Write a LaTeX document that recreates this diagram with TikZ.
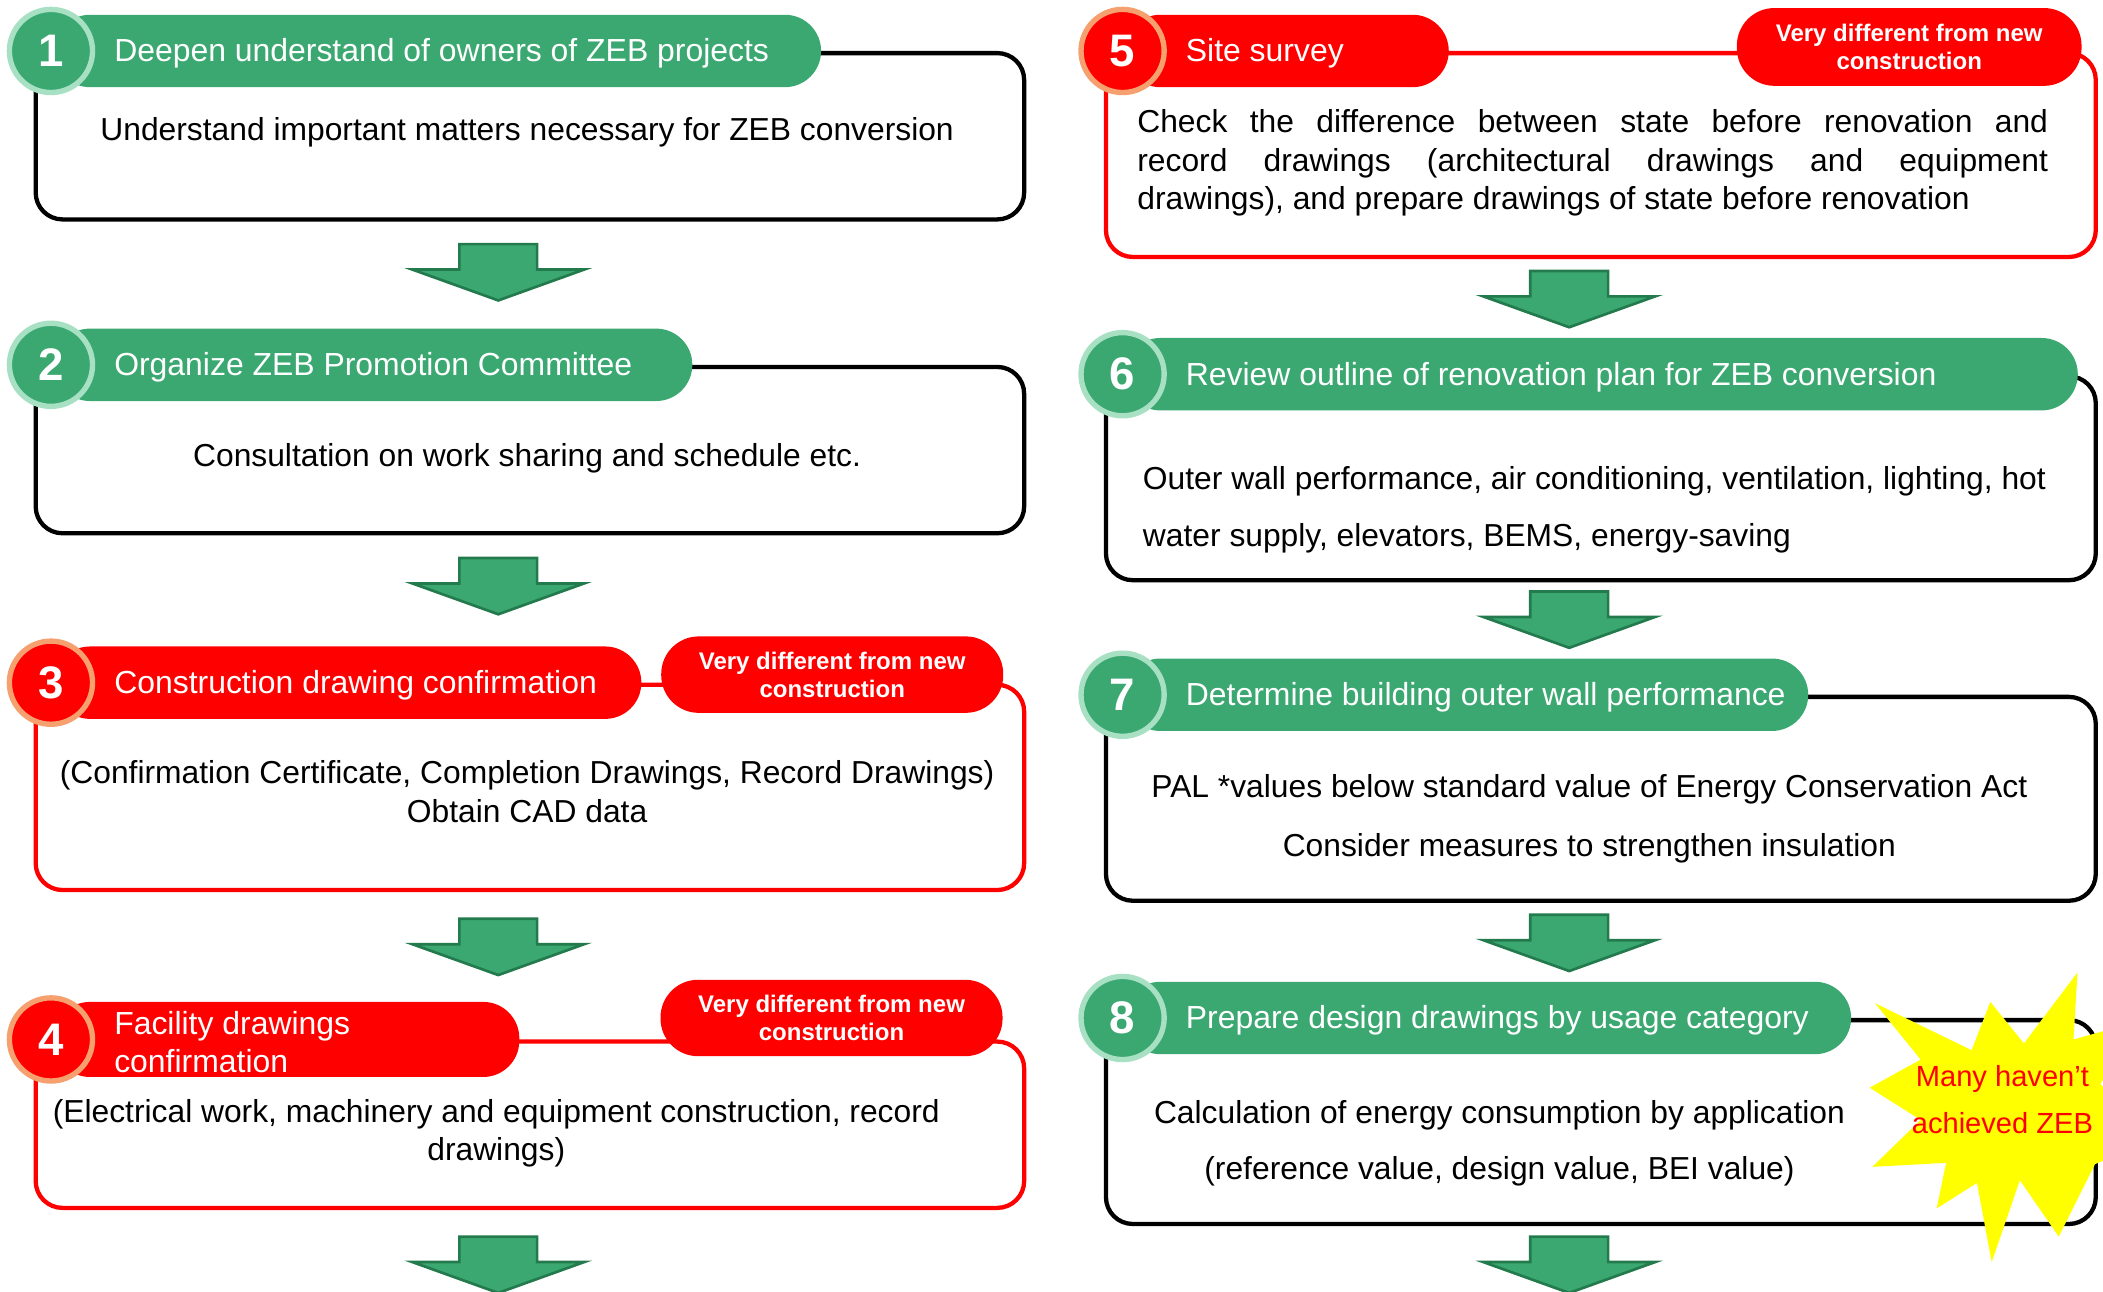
\documentclass[tikz,border=0pt]{standalone}
\usepackage{fontspec}
\setmainfont{Liberation Sans}
\usetikzlibrary{calc}

\definecolor{zgreen}{HTML}{3BA872}
\definecolor{zring}{HTML}{A8E0C4}
\definecolor{zred}{HTML}{FF0000}
\definecolor{zorange}{HTML}{F5A06E}
\definecolor{zdark}{HTML}{237A4C}
\definecolor{zyellow}{HTML}{FFFF00}

\tikzset{
  panel/.style={draw, line width=3.2pt, rounded corners=20pt, fill=white,
    anchor=north west, inner sep=0pt},
  pill/.style={rounded corners=27pt, minimum height=54pt, anchor=west, inner sep=0pt},
  hdrtext/.style={anchor=west, text=white, inner sep=0pt, align=left, yshift=-2pt,
    font=\fontsize{23.8}{28}\selectfont},
  numG/.style={circle, minimum size=62pt, fill=zgreen, draw=zring, line width=4pt,
    text=white, inner sep=0pt, font=\bfseries\fontsize{34}{34}\selectfont},
  numR/.style={numG, fill=zred, draw=zorange},
  body/.style={inner sep=0pt, align=center, yshift=-2.5pt,
    font=\fontsize{23.7}{29}\selectfont},
  tag/.style={fill=zred, rounded corners=28pt, minimum height=57pt, inner sep=0pt,
    text=white, align=center, font=\bfseries\fontsize{17.9}{21}\selectfont},
  blockarrow/.style={fill=zgreen, draw=zdark, line width=2pt},
  flowdown/.pic={\path[blockarrow] (-29,0) -- (29,0) -- (29,19) -- (64,19) -- (0,42)
      -- (-64,19) -- (-29,19) -- cycle;},
}

\begin{document}
\begin{tikzpicture}[x=1pt, y=-1pt]
\useasboundingbox (0,0) rectangle (1568,963);

% ---------------- left column ----------------
% step 1
\node[panel, minimum width=737pt, minimum height=124pt] (box1) at (25,38) {};
\node[pill, fill=zgreen, minimum width=572pt] (p1) at (40,38) {};
\node[hdrtext] (t1) at (85,38) {Deepen understand of owners of ZEB projects};
\node[numG] (n1) at (38,38) {1};
\node[body] (b1) at (393,96) {Understand important matters necessary for ZEB conversion};
\pic at (371.5,182) {flowdown};

% step 2
\node[panel, minimum width=737pt, minimum height=124pt] (box2) at (25,272) {};
\node[pill, fill=zgreen, minimum width=476pt] (p2) at (40,272) {};
\node[hdrtext] (t2) at (85,272) {Organize ZEB Promotion Committee};
\node[numG] (n2) at (38,272) {2};
\node[body] (b2) at (393,339) {Consultation on work sharing and schedule etc.};
\pic at (371.5,416) {flowdown};

% step 3
\node[panel, draw=zred, minimum width=737pt, minimum height=153pt] (box3) at (25,509) {};
\node[pill, fill=zred, minimum width=438pt] (p3) at (40,509) {};
\node[hdrtext] (t3) at (85,509) {Construction drawing confirmation};
\node[numR] (n3) at (38,509) {3};
\node[tag, minimum width=255pt] (g3) at (620.5,503) {Very different from new\\construction};
\node[body] (b3) at (393,587.5) {(Confirmation Certificate, Completion Drawings, Record Drawings)\\Obtain CAD data};
\pic at (371.5,685) {flowdown};

% step 4
\node[panel, draw=zred, minimum width=737pt, minimum height=124pt] (box4) at (25,775) {};
\node[pill, fill=zred, minimum width=347pt, minimum height=56pt] (p4) at (40,775) {};
\node[hdrtext] (t4) at (85,775) {Facility drawings\\confirmation};
\node[numR] (n4) at (38,775) {4};
\node[tag, minimum width=255pt] (g4) at (620,759) {Very different from new\\construction};
\node[body] (b4) at (370,842.5) {(Electrical work, machinery and equipment construction, record\\drawings)};
\pic at (371.5,922) {flowdown};

% ---------------- right column ----------------
% step 5
\node[panel, draw=zred, minimum width=738pt, minimum height=152pt] (box5) at (823,38) {};
\node[pill, fill=zred, minimum width=242pt] (p5) at (838,38) {};
\node[hdrtext] (t5) at (884,38) {Site survey};
\node[numR] (n5) at (837,38) {5};
\node[tag, minimum width=257pt, minimum height=58pt] (g5) at (1423.5,35) {Very different from new\\construction};
\node[body, text width=679pt, align=justify, font=\fontsize{23.7}{28.5}\selectfont]
  (b5) at (1187.5,119) {\hyphenpenalty=10000 \exhyphenpenalty=10000
  Check the difference between state before renovation and\linebreak
  record drawings (architectural drawings and equipment\linebreak
  drawings), and prepare drawings of state before renovation};
\pic at (1170,202) {flowdown};

% step 6
\node[panel, minimum width=738pt, minimum height=152pt] (box6) at (823,279) {};
\node[pill, fill=zgreen, minimum width=711pt] (p6) at (838,279) {};
\node[hdrtext] (t6) at (884,279) {Review outline of renovation plan for ZEB conversion};
\node[numG] (n6) at (837,279) {6};
\node[body, anchor=west, align=left, font=\fontsize{23.7}{43}\selectfont]
  (b6) at (852,377.5) {Outer wall performance, air conditioning, ventilation, lighting, hot\\water supply, elevators, BEMS, energy-saving};
\pic at (1170,441) {flowdown};

% step 7
\node[panel, minimum width=738pt, minimum height=152pt] (box7) at (823,518) {};
\node[pill, fill=zgreen, minimum width=510pt] (p7) at (838,518) {};
\node[hdrtext] (t7) at (884,518) {Determine building outer wall performance};
\node[numG] (n7) at (837,518) {7};
\node[body, font=\fontsize{23.7}{44}\selectfont]
  (b7) at (1185,608) {PAL *values below standard value of Energy Conservation Act\\Consider measures to strengthen insulation};
\pic at (1170,682) {flowdown};

% step 8
\node[panel, minimum width=738pt, minimum height=152pt] (box8) at (823,759) {};
\node[pill, fill=zgreen, minimum width=542pt] (p8) at (838,759) {};
\node[hdrtext] (t8) at (884,759) {Prepare design drawings by usage category};
\node[numG] (n8) at (837,759) {8};
\node[body, font=\fontsize{23.7}{42}\selectfont]
  (b8) at (1118,850) {Calculation of energy consumption by application\\(reference value, design value, BEI value)};
\pic at (1170,922) {flowdown};

% starburst callout, cut by the page edge
\begin{scope}
  \clip (0,0) rectangle (1568,963);
  \fill[zyellow] (1398,748) -- (1470,783) -- (1484,747) -- (1509,778) -- (1549,725)
    -- (1546,775) -- (1600,760) -- (1566,808) -- (1605,850) -- (1562,868)
    -- (1535,922) -- (1506,880) -- (1485,941) -- (1474,882) -- (1444,901)
    -- (1451,867) -- (1396,870) -- (1432,835) -- (1394,811) -- (1432,790) -- cycle;
\end{scope}
\node[text=zred, align=center, inner sep=0pt, font=\fontsize{21.7}{35}\selectfont]
  (burst) at (1493,820) {Many haven’t\\achieved ZEB};
\end{tikzpicture}
\end{document}
